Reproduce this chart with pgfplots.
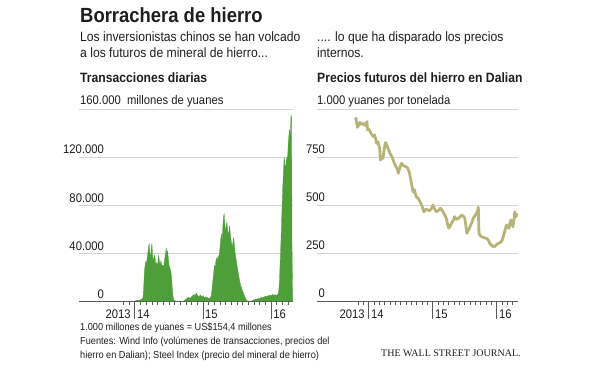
\documentclass[border=0pt]{standalone}
\usepackage{pgfplots}
\pgfplotsset{compat=1.18}
\usepackage{fontspec}
\setmainfont{Liberation Sans}[FakeStretch=0.9]
\newfontfamily\wsjfont{Liberation Serif}
\definecolor{wsjgreen}{RGB}{78,158,58}
\definecolor{wsjkhaki}{RGB}{184,180,120}
\definecolor{gridgray}{RGB}{212,212,212}
\definecolor{axisgray}{RGB}{90,90,90}
\definecolor{txt}{RGB}{30,30,30}
\pgfplotsset{
  wsj/.style={
    scale only axis, height=192pt, ymin=0, clip=false,
    axis x line*=bottom, axis y line*=left,
    y axis line style={draw=none},
    x axis line style={axisgray, line width=0.8pt},
    ymajorgrids, grid style={gridgray, line width=0.6pt},
    tick style={axisgray, line width=0.8pt},
    ytick style={draw=none},
    tick align=outside, major tick length=18pt, minor tick length=4pt,
    xtick={2014,2015,2016}, xticklabels={14,15,16},
    minor xtick={2013.8333,2013.9167,...,2016.26},
    xticklabel style={anchor=north west, inner sep=0pt, xshift=2pt, yshift=9pt,
      font=\fontsize{12.5}{14}\selectfont, text=txt},
    extra x ticks={2014}, extra x tick labels={2013},
    extra x tick style={xticklabel style={anchor=north east, xshift=-6pt}},
    yticklabel style={anchor=base east, inner sep=0pt, yshift=3pt,
      font=\fontsize{12.5}{14}\selectfont, text=txt},
    scaled y ticks=false,
    /pgf/number format/assume math mode=true,
  }
}
\begin{document}
\begin{tikzpicture}[x=1pt,y=1pt]
\path[use as bounding box] (0,0) rectangle (600,370);
% titles
\node[anchor=base west, inner sep=0pt, text=txt] at (80,347) {\fontsize{20.5}{22}\selectfont\bfseries Borrachera de hierro};
\node[anchor=base west, inner sep=0pt, text=txt] at (80,328) {\fontsize{13.5}{15}\selectfont Los inversionistas chinos se han volcado};
\node[anchor=base west, inner sep=0pt, text=txt] at (80,312) {\fontsize{13.5}{15}\selectfont a los futuros de mineral de hierro...};
\node[anchor=base west, inner sep=0pt, text=txt] at (80,287) {\fontsize{13.5}{15}\selectfont\bfseries Transacciones diarias};
\node[anchor=base west, inner sep=0pt, text=txt] at (317,328) {\fontsize{13.5}{15}\selectfont .... lo que ha disparado los precios};
\node[anchor=base west, inner sep=0pt, text=txt] at (317,312) {\fontsize{13.5}{15}\selectfont internos.};
\node[anchor=base west, inner sep=0pt, text=txt] at (317,287) {\fontsize{13.5}{15}\selectfont\bfseries Precios futuros del hierro en Dalian};
\node[anchor=base west, inner sep=0pt, text=txt] at (80,265) {\fontsize{12.5}{14}\selectfont 160.000\ \ millones de yuanes};
\node[anchor=base west, inner sep=0pt, text=txt] at (317,265) {\fontsize{12.5}{14}\selectfont 1.000 yuanes por tonelada};
% footnotes
\node[anchor=base west, inner sep=0pt, text=txt] at (80,40) {\fontsize{10.2}{12}\selectfont 1.000 millones de yuanes = US\$154,4 millones};
\node[anchor=base west, inner sep=0pt, text=txt] at (80,26) {\fontsize{10.2}{12}\selectfont Fuentes: Wind Info (volúmenes de transacciones, precios del};
\node[anchor=base west, inner sep=0pt, text=txt] at (80,12) {\fontsize{10.2}{12}\selectfont hierro en Dalian); Steel Index (precio del mineral de hierro)};
\node[anchor=base west, inner sep=0pt, text=txt] at (381,14) {\wsjfont\fontsize{10}{11}\selectfont THE WALL STREET JOURNAL.};

\begin{axis}[wsj, at={(79pt,69pt)}, anchor=south west, width=214pt,
  xmin=2013.18, xmax=2016.32, ymax=160000,
  ytick={0,40000,80000,120000,160000}, yticklabels={0,40.000,80.000,120.000,{}},
  yticklabel style={xshift=43pt}]
\addplot[draw=wsjgreen, fill=wsjgreen, line width=0.3pt, line join=round] coordinates {
(2014.00,0) (2014.02,400) (2014.04,700) (2014.06,500) (2014.08,900) (2014.10,1500)
(2014.12,3000) (2014.13,12000) (2014.14,25000) (2014.15,30000) (2014.16,33000)
(2014.17,31000) (2014.18,36000) (2014.19,40000) (2014.20,45000) (2014.21,48000)
(2014.22,40000) (2014.23,35000) (2014.24,44000) (2014.25,48000) (2014.26,38000)
(2014.27,33000) (2014.28,36000) (2014.29,38500) (2014.30,34000) (2014.31,30000)
(2014.32,32000) (2014.33,28000) (2014.34,35000) (2014.35,38000) (2014.36,33000)
(2014.37,30000) (2014.38,33500) (2014.39,31000) (2014.40,29000) (2014.41,30000)
(2014.42,27000) (2014.43,32000) (2014.44,36000) (2014.45,40000) (2014.46,44000)
(2014.47,38000) (2014.48,42000) (2014.49,36000) (2014.50,30000) (2014.51,28000)
(2014.52,26000) (2014.53,24000) (2014.54,18000) (2014.55,10000) (2014.56,4000)
(2014.57,800) (2014.58,300) (2014.60,0) (2014.72,0)
(2014.73,500) (2014.75,1500) (2014.77,2500) (2014.79,3000) (2014.81,2200)
(2014.83,3500) (2014.85,4500) (2014.87,5500) (2014.88,4000) (2014.90,6500)
(2014.92,4500) (2014.94,3500) (2014.96,5000) (2014.98,3500) (2015.00,4500)
(2015.02,2500) (2015.04,3500) (2015.06,3000) (2015.08,2000) (2015.10,2500)
(2015.12,4000) (2015.13,9000) (2015.14,15000) (2015.15,20000) (2015.16,26000)
(2015.17,30000) (2015.18,28000) (2015.19,34000) (2015.20,36000) (2015.21,32000)
(2015.22,38000) (2015.23,35000) (2015.24,40000) (2015.25,45000) (2015.26,52000)
(2015.27,56000) (2015.28,50000) (2015.29,62000) (2015.30,70000) (2015.31,73000)
(2015.32,64000) (2015.33,58000) (2015.34,62000) (2015.35,66000) (2015.36,60000)
(2015.37,55000) (2015.38,58000) (2015.39,63000) (2015.40,56000) (2015.41,51000)
(2015.42,48000) (2015.43,44000) (2015.44,50000) (2015.45,53000) (2015.46,46000)
(2015.47,40000) (2015.48,37000) (2015.49,33000) (2015.50,29000) (2015.51,26000)
(2015.52,22000) (2015.53,19000) (2015.54,16000) (2015.55,13000) (2015.56,12000)
(2015.57,10000) (2015.58,8000) (2015.59,7000) (2015.60,5500) (2015.61,4000)
(2015.62,3000) (2015.63,1500) (2015.64,500) (2015.65,0) (2015.71,0)
(2015.72,300) (2015.74,800) (2015.76,1200) (2015.78,1500) (2015.80,1800)
(2015.82,2200) (2015.84,2500) (2015.86,3000) (2015.88,2800) (2015.90,3500)
(2015.92,4000) (2015.94,3800) (2015.96,4500) (2015.98,5000) (2016.00,4200)
(2016.02,5500) (2016.04,4800) (2016.06,5200) (2016.08,4500) (2016.10,6000)
(2016.11,8000) (2016.12,15000) (2016.13,30000) (2016.14,45000) (2016.15,60000)
(2016.16,80000) (2016.17,95000) (2016.18,108000) (2016.19,120000) (2016.20,114000)
(2016.21,110000) (2016.22,116000) (2016.23,120000) (2016.24,118000) (2016.25,131000)
(2016.26,138000) (2016.27,143000) (2016.28,135000) (2016.29,155000) (2016.30,152000)
(2016.305,50000) (2016.315,0)
} \closedcycle;
\end{axis}

\begin{axis}[wsj, at={(317pt,69pt)}, anchor=south west, width=201pt,
  xmin=2013.19, xmax=2016.33, ymax=1000,
  ytick={0,250,500,750,1000}, yticklabels={0,250,500,750,{}},
  yticklabel style={xshift=26pt}]
\addplot[wsjkhaki, line width=2.8pt, line join=round] coordinates {
(2013.78,945) (2013.80,951) (2013.82,905) (2013.84,915) (2013.86,930) (2013.88,920)
(2013.91,925) (2013.94,915) (2013.97,934) (2013.98,891) (2014.00,895) (2014.02,882)
(2014.04,870) (2014.07,856) (2014.09,865) (2014.11,840) (2014.12,821) (2014.14,830)
(2014.17,795) (2014.18,734) (2014.20,745) (2014.22,743) (2014.24,790) (2014.26,825)
(2014.27,820) (2014.30,795) (2014.33,770) (2014.36,752) (2014.39,725) (2014.41,708)
(2014.44,690) (2014.46,665) (2014.48,690) (2014.51,717) (2014.54,705) (2014.58,699)
(2014.61,690) (2014.63,673) (2014.65,640) (2014.67,604) (2014.69,569) (2014.71,580)
(2014.74,543) (2014.77,535) (2014.80,517) (2014.83,495) (2014.86,465) (2014.89,478)
(2014.92,474) (2014.95,470) (2014.98,483) (2015.00,500) (2015.02,485) (2015.05,465)
(2015.08,470) (2015.12,483) (2015.15,470) (2015.17,457) (2015.19,445) (2015.21,431)
(2015.23,400) (2015.25,379) (2015.27,390) (2015.29,405) (2015.32,420) (2015.34,439)
(2015.37,425) (2015.40,431) (2015.43,440) (2015.45,448) (2015.48,440) (2015.50,431)
(2015.52,380) (2015.53,353) (2015.56,370) (2015.58,387) (2015.61,410) (2015.63,431)
(2015.66,445) (2015.68,457) (2015.70,470) (2015.71,488) (2015.72,353) (2015.74,340)
(2015.76,335) (2015.80,330) (2015.84,326) (2015.87,315) (2015.89,300) (2015.92,290)
(2015.94,283) (2015.97,285) (2015.99,292) (2016.02,300) (2016.05,304) (2016.08,315)
(2016.10,335) (2016.12,360) (2016.14,385) (2016.15,396) (2016.17,385) (2016.19,379)
(2016.20,400) (2016.22,422) (2016.24,400) (2016.25,387) (2016.27,430) (2016.28,465)
(2016.30,439) (2016.31,457)
};
\end{axis}
\end{tikzpicture}
\end{document}
